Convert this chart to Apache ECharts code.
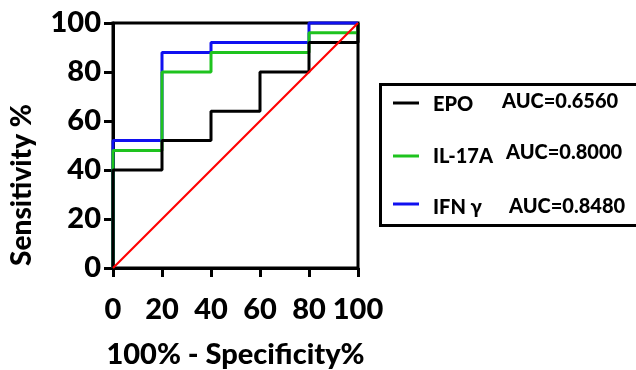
<!DOCTYPE html>
<html><head><meta charset="utf-8">
<script src="https://cdn.jsdelivr.net/npm/echarts@6/dist/echarts.min.js"></script>
<style>html,body{margin:0;padding:0;background:#fff}#c{width:636px;height:370px}</style>
</head><body><div id="c"></div>
<script>
const xTicks = [0, 20, 40, 60, 80, 100];
const yTicks = [0, 20, 40, 60, 80, 100];
const epoX = [0, 0, 20, 20, 40, 40, 60, 60, 80, 80, 100, 100];
const epoY = [0, 40, 40, 52, 52, 64, 64, 80, 80, 92, 92, 100];
const il17X = [0, 0, 20, 20, 40, 40, 80, 80, 100, 100];
const il17Y = [0, 48, 48, 80, 80, 88, 88, 96, 96, 100];
const ifnX = [0, 0, 20, 20, 40, 40, 80, 80, 100];
const ifnY = [0, 52, 52, 88, 88, 92, 92, 100, 100];
const refX = [0, 100];
const refY = [0, 100];
const names = ['EPO', 'IL-17A', 'IFN γ'];
const aucs = ['AUC=0.6560', 'AUC=0.8000', 'AUC=0.8480'];
const colors = ['#000000', '#1ec31e', '#1010f0'];

const FONT = 'Lato';
const W = 900;
function pts(xs, ys) { return xs.map((x, i) => [x, ys[i]]); }

const chart = echarts.init(document.getElementById('c'), null, {renderer: 'canvas'});
const lineY = [103, 156, 204];
const nameY = [105, 157, 208];
const aucY = [102, 153, 207];
const aucX = [502, 506, 509];
const graphics = [
  {type: 'rect', left: 378, top: 82, shape: {width: 280, height: 141}, style: {fill: 'none', stroke: '#000', lineWidth: 3}, z: 10},
  {type: 'text', x: 22, y: 185, rotation: Math.PI / 2, style: {text: 'Sensitivity %', font: W + ' 28px ' + FONT, fill: '#000', textAlign: 'center', textVerticalAlign: 'middle'}}
];
names.forEach((n, i) => {
  graphics.push({type: 'line', shape: {x1: 393, y1: lineY[i], x2: 419, y2: lineY[i]}, style: {stroke: colors[i], lineWidth: 3}, z: 10});
  graphics.push({type: 'text', x: 433, y: nameY[i], style: {text: n, font: W + ' 20px ' + FONT, fill: '#000', textVerticalAlign: 'middle'}, z: 10});
  graphics.push({type: 'text', x: aucX[i], y: aucY[i], style: {text: aucs[i], font: W + ' 20px ' + FONT, fill: '#000', textVerticalAlign: 'middle'}, z: 10});
});

chart.setOption({
  animation: false,
  grid: {left: 113, right: 278, top: 23, bottom: 102, show: true, borderColor: '#000', borderWidth: 3,
         containLabel: false, outerBoundsMode: 'none'},
  xAxis: {
    type: 'value', min: 0, max: 100, interval: 20,
    name: '100% - Specificity%', nameLocation: 'middle', nameGap: 72,
    nameTextStyle: {fontFamily: FONT, fontWeight: W, fontSize: 29, color: '#000'},
    axisLine: {lineStyle: {color: '#000', width: 3}},
    axisTick: {show: true, length: 9, lineStyle: {color: '#000', width: 3}},
    axisLabel: {fontFamily: FONT, fontWeight: W, fontSize: 29, color: '#000', margin: 27,
      formatter: v => xTicks.includes(v) ? String(v) : ''},
    splitLine: {show: false}
  },
  yAxis: {
    type: 'value', min: 0, max: 100, interval: 20,
    axisLine: {lineStyle: {color: '#000', width: 3}},
    axisTick: {show: true, length: 9, lineStyle: {color: '#000', width: 3}},
    axisLabel: {fontFamily: FONT, fontWeight: W, fontSize: 29, color: '#000', margin: 12,
      formatter: v => yTicks.includes(v) ? String(v) : ''},
    splitLine: {show: false}
  },
  series: [
    {type: 'line', name: 'IFN γ', data: pts(ifnX, ifnY), showSymbol: false, clip: false, z: 3, lineStyle: {color: colors[2], width: 3}},
    {type: 'line', name: 'IL-17A', data: pts(il17X, il17Y), showSymbol: false, clip: false, z: 4, lineStyle: {color: colors[1], width: 3}},
    {type: 'line', name: 'EPO', data: pts(epoX, epoY), showSymbol: false, clip: false, z: 5, lineStyle: {color: colors[0], width: 3}},
    {type: 'line', name: 'ref', data: pts(refX, refY), showSymbol: false, clip: false, z: 6, lineStyle: {color: '#ff0000', width: 2.2}}
  ],
  graphic: graphics
});
</script></body></html>
